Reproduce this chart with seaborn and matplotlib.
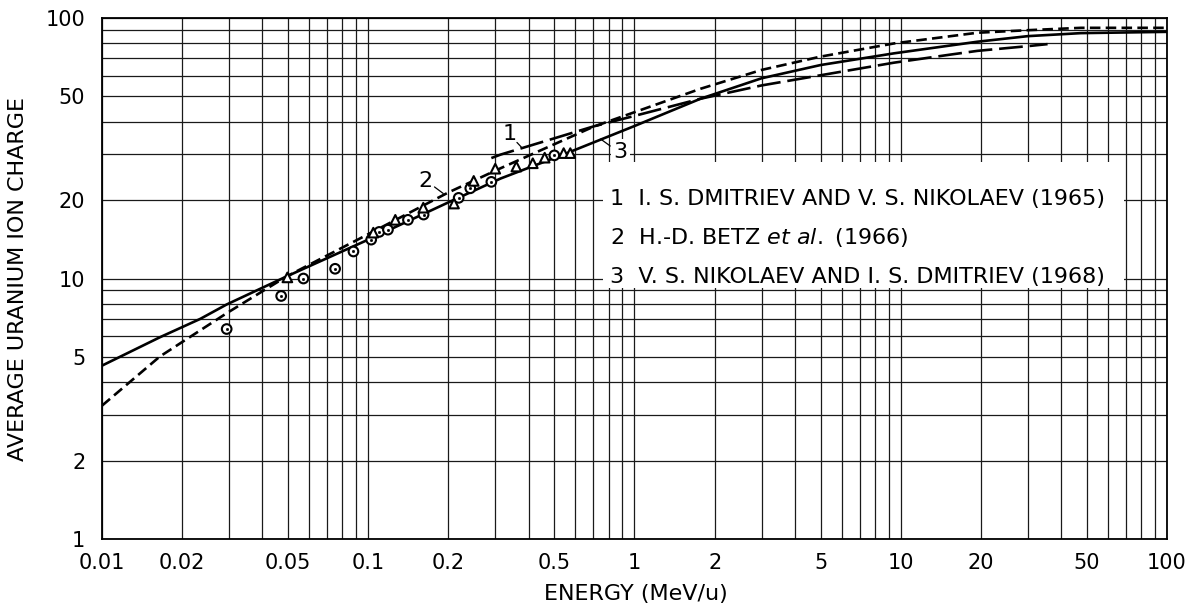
import numpy as np
import pandas as pd
import matplotlib
matplotlib.use("Agg")
import matplotlib.pyplot as plt
from matplotlib.ticker import FixedLocator, FixedFormatter, NullFormatter
from matplotlib.patches import Rectangle
import seaborn as sns

# ---------------- data ----------------
# Curve 1: I. S. Dmitriev and V. S. Nikolaev (1965)  -- long dashes
e1 = [0.29, 0.314, 0.704, 1.0, 1.77, 3.0, 5.0, 9.44, 15.4, 19.4, 30.0, 35.6]
q1 = [29.0, 29.9, 38.4, 42.1, 49.0, 55.1, 60.3, 67.4, 72.4, 74.8, 78.0, 79.4]

# Curve 2: H.-D. Betz et al. (1966)  -- short dashes
e2 = [0.01, 0.0165, 0.0294, 0.0495, 0.1, 0.2, 0.314, 0.703, 1.0, 1.77, 3.0, 5.0,
      9.44, 19.4, 30.0, 47.5, 100.0]
q2 = [3.25, 5.02, 7.36, 10.2, 14.8, 21.4, 26.5, 38.3, 43.5, 53.5, 63.2, 71.1,
      79.9, 87.8, 89.8, 91.7, 91.7]

# Curve 3: V. S. Nikolaev and I. S. Dmitriev (1968)  -- solid
e3 = [0.01, 0.0165, 0.0234, 0.0294, 0.0495, 0.1, 0.2, 0.314, 0.558, 1.0, 1.77,
      3.0, 5.0, 9.44, 19.4, 30.0, 47.5, 100.0]
q3 = [4.63, 5.95, 7.0, 7.95, 10.2, 14.1, 19.6, 24.2, 30.3, 38.5, 49.0,
      58.7, 66.0, 73.2, 81.1, 85.2, 87.5, 88.5]

# Measured points: circles (with centre dot) and triangles
e_circ = [0.0294, 0.0471, 0.0571, 0.0751, 0.088, 0.1026, 0.110, 0.1186, 0.141,
          0.1614, 0.2186, 0.2417, 0.290, 0.50]
q_circ = [6.4, 8.57, 10.0, 10.9, 12.7, 14.1, 15.1, 15.4, 16.8, 17.6, 20.4, 22.2,
          23.5, 29.7]
e_tri = [0.0497, 0.1045, 0.1264, 0.161, 0.21, 0.249, 0.300, 0.360, 0.415, 0.46,
         0.542, 0.574]
q_tri = [10.1, 15.0, 16.8, 18.7, 19.4, 23.7, 26.4, 26.9, 27.7, 29.1, 30.3, 30.3]

x_ticks = [0.01, 0.02, 0.05, 0.1, 0.2, 0.5, 1, 2, 5, 10, 20, 50, 100]
x_labels = ["0.01", "0.02", "0.05", "0.1", "0.2", "0.5", "1", "2", "5", "10", "20", "50", "100"]
y_ticks = [1, 2, 5, 10, 20, 50, 100]
y_labels = ["1", "2", "5", "10", "20", "50", "100"]

legend_lines = ["1  I. S. DMITRIEV AND V. S. NIKOLAEV (1965)",
                r"2  H.-D. BETZ $\it{et\ al.}$ (1966)",
                "3  V. S. NIKOLAEV AND I. S. DMITRIEV (1968)"]

# ---------------- figure ----------------
sns.set_style("white")
plt.rcParams["font.family"] = ["DejaVu Sans"]
plt.rcParams["mathtext.fontset"] = "dejavusans"
for k in ["text.color", "axes.labelcolor", "xtick.color", "ytick.color"]:
    plt.rcParams[k] = "black"

fig = plt.figure(figsize=(12.01, 6.11), dpi=100)
ax = fig.add_axes([0.0849, 0.1178, 0.8868, 0.8527])

curves = pd.concat([
    pd.DataFrame({"E": e1, "Q": q1, "curve": "1"}),
    pd.DataFrame({"E": e2, "Q": q2, "curve": "2"}),
    pd.DataFrame({"E": e3, "Q": q3, "curve": "3"}),
], ignore_index=True)

sns.lineplot(data=curves, x="E", y="Q", style="curve",
             dashes={"1": (9, 2.6), "2": (4, 2), "3": ""},
             color="black", lw=1.9, legend=False, errorbar=None,
             estimator=None, sort=False, ax=ax, zorder=3)

pts = pd.concat([
    pd.DataFrame({"E": e_circ, "Q": q_circ, "kind": "circle"}),
    pd.DataFrame({"E": e_tri, "Q": q_tri, "kind": "triangle"}),
], ignore_index=True)
sns.scatterplot(data=pts, x="E", y="Q", style="kind",
                markers={"circle": "o", "triangle": "^"},
                s=48, facecolor="white", edgecolor="black", linewidth=1.5,
                legend=False, ax=ax, zorder=4)
sns.scatterplot(x=e_circ, y=q_circ, marker="o", s=4, color="black",
                edgecolor="black", legend=False, ax=ax, zorder=5)

ax.set_xscale("log")
ax.set_yscale("log")
ax.set_xlim(0.01, 100)
ax.set_ylim(1, 100)

# grid at every 1..9 multiple
xminor = [m * 10.0 ** d for d in range(-2, 2) for m in range(1, 10)] + [100]
yminor = [m * 10.0 ** d for d in range(0, 2) for m in range(1, 10)] + [100]
ax.xaxis.set_major_locator(FixedLocator(x_ticks))
ax.xaxis.set_major_formatter(FixedFormatter(x_labels))
ax.xaxis.set_minor_locator(FixedLocator(xminor))
ax.xaxis.set_minor_formatter(NullFormatter())
ax.yaxis.set_major_locator(FixedLocator(y_ticks))
ax.yaxis.set_major_formatter(FixedFormatter(y_labels))
ax.yaxis.set_minor_locator(FixedLocator(yminor))
ax.yaxis.set_minor_formatter(NullFormatter())
ax.set_axisbelow(True)
ax.grid(which="both", color="#1a1a1a", lw=0.9)
ax.tick_params(which="both", length=0, labelsize=15)
ax.tick_params(axis="x", pad=10)
ax.tick_params(axis="y", pad=12)
for sp in ax.spines.values():
    sp.set_color("black")
    sp.set_linewidth(1.3)

ax.set_xlabel("ENERGY (MeV/u)", fontsize=16)
ax.set_ylabel("AVERAGE URANIUM ION CHARGE", fontsize=16)
ax.xaxis.set_label_coords(0.501, -0.086)
ax.yaxis.set_label_coords(-0.069, 0.5)

# white legend panel
ax.add_patch(Rectangle((0.470, 0.482), 0.490, 0.242, transform=ax.transAxes,
                       facecolor="white", edgecolor="none", zorder=2))
for txt, fy in zip(legend_lines, [0.653, 0.578, 0.502]):
    ax.text(0.477, fy, txt, transform=ax.transAxes, fontsize=16,
            va="center", ha="left", zorder=6)

# curve labels with leader lines
ax.text(0.339, 36.0, "1", fontsize=16, ha="center", va="center", zorder=6)
ax.annotate("", xy=(0.383, 31.3), xytext=(0.356, 33.9),
            arrowprops=dict(arrowstyle="-", lw=0.9, color="black"), zorder=6)
ax.text(0.164, 23.6, "2", fontsize=16, ha="center", va="center", zorder=6)
ax.annotate("", xy=(0.195, 20.9), xytext=(0.174, 22.8),
            arrowprops=dict(arrowstyle="-", lw=0.9, color="black"), zorder=6)
ax.text(0.886, 30.7, "3", fontsize=16, ha="center", va="center", zorder=6,
        bbox=dict(facecolor="white", edgecolor="none", pad=2))
ax.annotate("", xy=(0.732, 34.8), xytext=(0.827, 31.8),
            arrowprops=dict(arrowstyle="-", lw=0.9, color="black"), zorder=6)

fig.savefig("out.png", dpi=100)
